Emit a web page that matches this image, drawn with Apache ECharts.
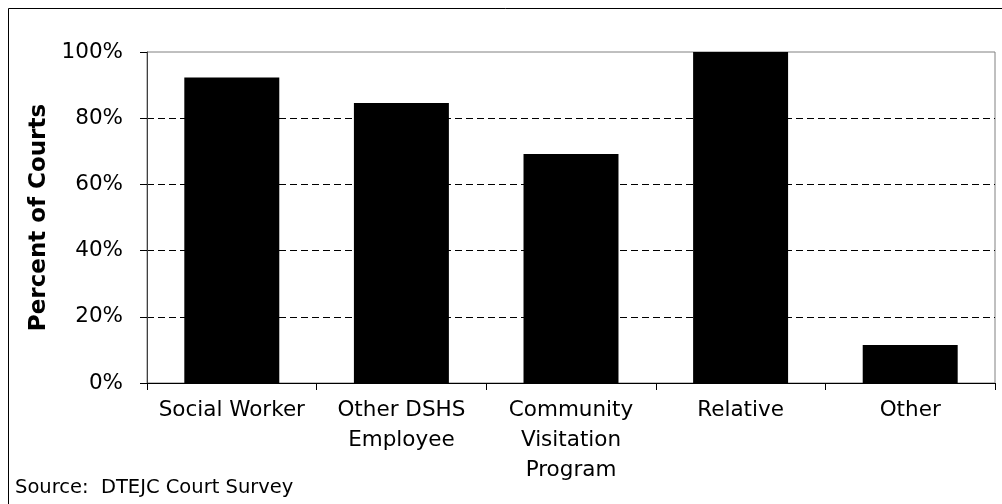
<!DOCTYPE html>
<html>
<head>
<meta charset="utf-8">
<script src="https://cdn.jsdelivr.net/npm/echarts@6/dist/echarts.min.js"></script>
<style>
  html, body { margin: 0; padding: 0; background: #fff; }
  #chart { width: 1002px; height: 504px; }
</style>
</head>
<body>
<div id="chart"></div>
<script>
// Who supervises visitation, share of responding courts
const categories = ['Social Worker', 'Other DSHS\nEmployee', 'Community\nVisitation\nProgram', 'Relative', 'Other'];
const percentOfCourts = [92.3, 84.6, 69.2, 100, 11.5];
const yTicks = [0, 20, 40, 60, 80, 100];

const FONT = '"DejaVu Sans", "Liberation Sans", Arial, sans-serif';

const chart = echarts.init(document.getElementById('chart'), null, { renderer: 'canvas' });

chart.setOption({
  backgroundColor: '#ffffff',
  animation: false,
  textStyle: { fontFamily: FONT, color: '#000' },
  grid: {
    left: 147, right: 7, top: 52, bottom: 121,
    show: true, borderColor: '#808080', borderWidth: 1,
    containLabel: false
  },
  xAxis: {
    type: 'category',
    data: categories,
    axisLine: { show: true, lineStyle: { color: '#000', width: 1 } },
    axisTick: { show: true, length: 7, alignWithLabel: false, lineStyle: { color: '#000' } },
    axisLabel: {
      interval: 0, margin: 12, fontSize: 21.5, lineHeight: 30,
      color: '#000', fontFamily: FONT
    },
    splitLine: { show: false }
  },
  yAxis: {
    type: 'value',
    min: yTicks[0], max: yTicks[yTicks.length - 1], interval: 20,
    name: 'Percent of Courts',
    nameLocation: 'middle',
    nameGap: 95,
    nameRotate: 90,
    nameTextStyle: { fontSize: 23, fontWeight: 'bold', color: '#000', fontFamily: FONT },
    axisLine: { show: true, lineStyle: { color: '#404040', width: 1 } },
    axisTick: { show: true, length: 7, lineStyle: { color: '#000' } },
    axisLabel: {
      margin: 24, fontSize: 21.5, color: '#000', fontFamily: FONT,
      formatter: v => v + '%'
    },
    splitLine: {
      show: true, showMinLine: false, showMaxLine: false,
      lineStyle: { color: '#000', width: 1, type: [7, 4] }
    }
  },
  series: [{
    type: 'bar',
    data: percentOfCourts,
    barWidth: '56%',
    itemStyle: { color: '#000', borderColor: '#000', borderWidth: 0 },
    z: 3
  }],
  graphic: [
    {
      type: 'rect', silent: true, z: 100,
      shape: { x: 8.5, y: 8.5, width: 1010, height: 510 },
      style: { fill: null, stroke: '#000', lineWidth: 1 }
    },
    {
      type: 'text', left: 15, top: 478, z: 100,
      style: { text: 'Source:  DTEJC Court Survey', font: '19.5px ' + FONT, fill: '#000' }
    }
  ]
});
</script>
</body>
</html>
